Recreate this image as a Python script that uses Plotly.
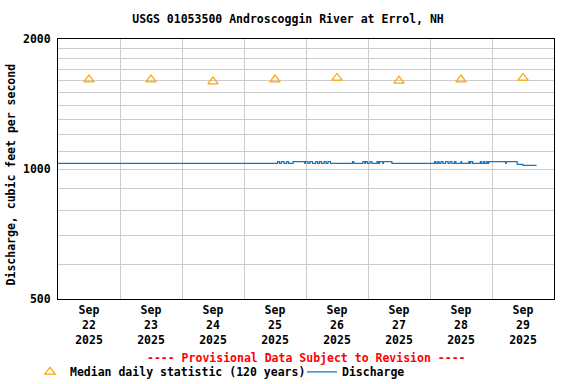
import plotly.graph_objects as go

# ---------------- data ----------------
median_dates = ["2025-09-22 12:00", "2025-09-23 12:00", "2025-09-24 12:00", "2025-09-25 12:00",
                "2025-09-26 12:00", "2025-09-27 12:00", "2025-09-28 12:00", "2025-09-29 12:00"]
median_values = [1611, 1611, 1594, 1611, 1625, 1600, 1611, 1625]

# discharge: change points of a step series (15-minute data)
q_times = ["2025-09-22 00:00", "2025-09-25 13:00", "2025-09-25 13:45", "2025-09-25 14:30", "2025-09-25 15:30",
           "2025-09-25 16:30", "2025-09-25 17:15", "2025-09-25 19:00", "2025-09-25 23:30", "2025-09-25 23:45",
           "2025-09-26 00:45", "2025-09-26 01:30", "2025-09-26 02:30", "2025-09-26 03:45", "2025-09-26 04:30",
           "2025-09-26 05:15", "2025-09-26 06:00", "2025-09-26 07:00", "2025-09-26 07:45", "2025-09-26 08:30",
           "2025-09-26 09:30", "2025-09-26 18:00", "2025-09-26 18:30", "2025-09-26 22:00", "2025-09-26 22:45",
           "2025-09-26 23:00", "2025-09-26 23:45", "2025-09-27 00:45", "2025-09-27 01:30", "2025-09-27 03:30",
           "2025-09-27 04:00", "2025-09-27 04:30", "2025-09-27 05:45", "2025-09-27 06:00", "2025-09-27 09:15",
           "2025-09-28 01:45", "2025-09-28 02:15", "2025-09-28 03:00", "2025-09-28 03:30", "2025-09-28 04:15",
           "2025-09-28 05:00", "2025-09-28 06:00", "2025-09-28 07:00", "2025-09-28 07:45", "2025-09-28 08:30",
           "2025-09-28 09:30", "2025-09-28 10:00", "2025-09-28 12:00", "2025-09-28 12:15", "2025-09-28 15:00",
           "2025-09-28 15:30", "2025-09-28 15:45", "2025-09-28 16:30", "2025-09-28 19:30", "2025-09-28 20:00",
           "2025-09-28 20:45", "2025-09-28 21:15", "2025-09-28 22:00", "2025-09-28 22:30", "2025-09-28 22:45",
           "2025-09-29 00:00", "2025-09-29 05:15", "2025-09-29 05:30", "2025-09-29 09:45", "2025-09-29 12:00",
           "2025-09-29 17:15"]
q_values = [1030, 1040, 1030, 1040, 1030,
            1040, 1030, 1040, 1030, 1040,
            1030, 1040, 1030, 1040, 1030,
            1040, 1030, 1040, 1030, 1040,
            1030, 1040, 1030, 1040, 1030,
            1040, 1030, 1040, 1030, 1040,
            1030, 1040, 1030, 1040, 1030,
            1040, 1030, 1040, 1030, 1040,
            1030, 1040, 1030, 1040, 1030,
            1040, 1030, 1040, 1030, 1040,
            1030, 1040, 1030, 1040, 1030,
            1040, 1030, 1040, 1030, 1040,
            1040, 1030, 1040, 1025, 1020,
            1020]

x_tick_vals = median_dates
x_tick_text = ["Sep<br>22<br>2025", "Sep<br>23<br>2025", "Sep<br>24<br>2025", "Sep<br>25<br>2025",
               "Sep<br>26<br>2025", "Sep<br>27<br>2025", "Sep<br>28<br>2025", "Sep<br>29<br>2025"]
y_grid_vals = list(range(500, 2001, 100))
y_labels = {500: "500", 1000: "1000", 2000: "2000"}

title_text = "USGS 01053500 Androscoggin River at Errol, NH"
y_title = "Discharge, cubic feet per second"
note_text = "---- Provisional Data Subject to Revision ----"

# ---------------- figure ----------------
FONT = "DejaVu Sans Mono"
base_font = dict(family=FONT, size=11.5, color="black", weight="bold")

fig = go.Figure()
fig.add_trace(go.Scatter(
    x=median_dates, y=median_values, mode="markers",
    name="Median daily statistic (120 years)",
    marker=dict(symbol="triangle-up-open", size=9, color="#FFA500", line=dict(width=1.2, color="#FFA500")),
))
fig.add_trace(go.Scatter(
    x=q_times, y=q_values, mode="lines", line_shape="hv",
    name="Discharge",
    line=dict(color="#0A78CC", width=1.2),
))

fig.update_layout(
    width=576, height=384,
    margin=dict(l=58, r=22, t=39, b=85, autoexpand=False),
    paper_bgcolor="white", plot_bgcolor="white",
    font=base_font,
    title=dict(text=title_text, x=0.5, xanchor="center", y=0.95, yanchor="middle", font=base_font),
    showlegend=True,
    legend=dict(orientation="h", x=-0.0565, xanchor="left", y=-0.28, yanchor="middle",
                entrywidth=227, entrywidthmode="pixels",
                font=base_font, bgcolor="rgba(0,0,0,0)", traceorder="normal"),
)
fig.update_xaxes(
    type="date", range=["2025-09-22 00:00", "2025-09-30 00:00"],
    tickmode="array", tickvals=x_tick_vals, ticktext=x_tick_text, ticks="",
    showgrid=False, zeroline=False, automargin=False,
    minor=dict(dtick=86400000, tick0="2025-09-22", showgrid=True, gridcolor="#CCCCCC", gridwidth=1, ticks=""),
    showline=True, linecolor="black", linewidth=1, mirror=True,
    tickfont=base_font, tickangle=0,
)
fig.update_yaxes(
    type="log", range=[2.69897, 3.30103],
    tickmode="array", tickvals=y_grid_vals,
    ticktext=[y_labels.get(v, "") for v in y_grid_vals], ticks="",
    showgrid=True, gridcolor="#CCCCCC", gridwidth=1, zeroline=False, automargin=False,
    showline=True, linecolor="black", linewidth=1, mirror=True,
    tickfont=base_font, ticklabelstandoff=4,
)
fig.add_annotation(text=y_title, xref="paper", yref="paper", x=-0.0948, y=0.479,
                   xanchor="center", yanchor="middle", textangle=-90, showarrow=False,
                   font=base_font)
fig.add_annotation(text=note_text, xref="paper", yref="paper", x=0.5, y=-0.227,
                   xanchor="center", yanchor="middle", showarrow=False,
                   font=dict(family=FONT, size=11.5, color="red", weight="bold"))

fig.write_html("out.html", config={"displayModeBar": False},
               post_script="document.body.style.margin='0';document.body.style.padding='0';"
                           "document.documentElement.style.overflow='hidden';")
